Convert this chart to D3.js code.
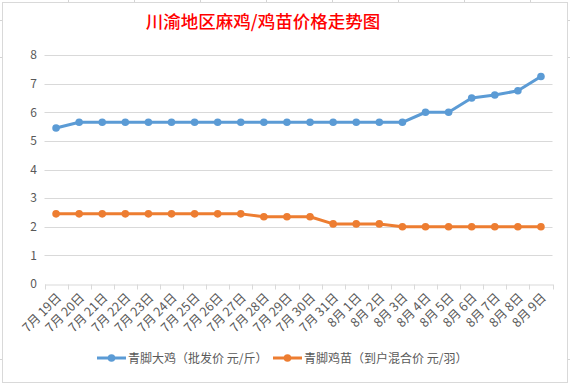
<!DOCTYPE html>
<html><head><meta charset="utf-8">
<script src="https://cdnjs.cloudflare.com/ajax/libs/d3/7.8.5/d3.min.js"></script>
<style>body{margin:0;background:#fff}svg{display:block}</style>
</head><body><svg id="c" width="570" height="385"></svg>
<script>
const categories = ["7月 19日","7月 20日","7月 21日","7月 22日","7月 23日","7月 24日","7月 25日","7月 26日","7月 27日","7月 28日","7月 29日","7月 30日","7月 31日","8月 1日","8月 2日","8月 3日","8月 4日","8月 5日","8月 6日","8月 7日","8月 8日","8月 9日"];
const chickenPrice = [5.45,5.65,5.65,5.65,5.65,5.65,5.65,5.65,5.65,5.65,5.65,5.65,5.65,5.65,5.65,5.65,6.0,6.0,6.5,6.6,6.75,7.25];
const chickPrice = [2.45,2.45,2.45,2.45,2.45,2.45,2.45,2.45,2.45,2.35,2.35,2.35,2.1,2.1,2.1,2.0,2.0,2.0,2.0,2.0,2.0,2.0];
const yTicks = [0,1,2,3,4,5,6,7,8];
const seriesNames = ["青脚大鸡（批发价 元/斤）","青脚鸡苗（到户混合价 元/羽）"];
const colors = ["#5b9bd5","#ed7d31"];
const title = "川渝地区麻鸡/鸡苗价格走势图";

const svg = d3.select("#c");
const font = "'Noto Sans CJK SC', 'Microsoft YaHei', sans-serif";

// spreadsheet background grid hints
const bg = svg.append("g").attr("stroke","#d4d4d4").attr("stroke-width",1);
[68,134,200,266,332,398,464,530].forEach(x=>bg.append("line").attr("x1",x+0.5).attr("x2",x+0.5).attr("y1",0).attr("y2",2));
[20,57,359].forEach(y=>{bg.append("line").attr("x1",0).attr("x2",2).attr("y1",y+0.5).attr("y2",y+0.5);bg.append("line").attr("x1",568).attr("x2",570).attr("y1",y+0.5).attr("y2",y+0.5);});

svg.append("rect").attr("x",2.5).attr("y",2.5).attr("width",565).attr("height",380)
  .attr("fill","#fff").attr("stroke","#d9d9d9");

const x = d3.scaleBand().domain(categories).range([44.5,552.5]);
const y = d3.scaleLinear().domain([0,8]).range([284,55]);

svg.append("text").attr("x",263).attr("y",28).attr("text-anchor","middle")
  .attr("fill","#ff0000").attr("font-size",17.5).attr("font-weight",500).attr("font-family",font).text(title);

// gridlines
const grid = svg.append("g");
grid.selectAll("line").data(yTicks.filter(d=>d>0)).join("line")
  .attr("x1",44.5).attr("x2",552.5)
  .attr("y1",d=>Math.round(y(d))+0.5).attr("y2",d=>Math.round(y(d))+0.5)
  .attr("stroke","#d9d9d9");

// y axis
const yAxis = svg.append("g").attr("transform","translate(40,0)")
  .call(d3.axisLeft(y).tickValues(yTicks).tickSize(0).tickPadding(0).tickFormat(d3.format("d")));
yAxis.select(".domain").remove();
yAxis.selectAll("text").attr("fill","#595959").attr("font-size",12).attr("font-family",font).attr("x",-3);

// x axis
const xAxis = svg.append("g").attr("transform",`translate(0,${Math.round(y(0))+0.5})`)
  .call(d3.axisBottom(x).tickSize(0));
xAxis.select(".domain").attr("stroke","#d9d9d9");
const bounds = categories.map(c=>x(c)).concat([x.range()[1]]);
xAxis.selectAll(".bt").data(bounds).join("line").attr("class","bt")
  .attr("x1",d=>Math.round(d)+0.5).attr("x2",d=>Math.round(d)+0.5).attr("y1",0).attr("y2",5).attr("stroke","#d9d9d9");
xAxis.selectAll(".tick text")
  .attr("fill","#595959").attr("font-size",12.5).attr("font-family",font)
  .attr("text-anchor","end").attr("dy",0).attr("y",0)
  .attr("transform","translate(6,14) rotate(-45)");

const line = d3.line().x((d,i)=>x(categories[i])+x.bandwidth()/2).y(d=>y(d));
[chickenPrice, chickPrice].forEach((s,k)=>{
  svg.append("path").datum(s).attr("d",line).attr("fill","none")
    .attr("stroke",colors[k]).attr("stroke-width",3).attr("stroke-linejoin","round");
  svg.append("g").selectAll("circle").data(s).join("circle")
    .attr("cx",(d,i)=>x(categories[i])+x.bandwidth()/2).attr("cy",d=>y(d)).attr("r",3.8)
    .attr("fill",colors[k]);
});

// legend
const legendX = [97, 273];
seriesNames.forEach((n,k)=>{
  const g = svg.append("g").attr("transform",`translate(${legendX[k]},358)`);
  g.append("line").attr("x1",0).attr("x2",29).attr("stroke",colors[k]).attr("stroke-width",3);
  g.append("circle").attr("cx",14.5).attr("r",3.8).attr("fill",colors[k]);
  g.append("text").attr("x",31).attr("y",4.5).attr("fill","#595959").attr("font-size",12)
    .attr("font-family",font).text(n);
});
</script></body></html>
